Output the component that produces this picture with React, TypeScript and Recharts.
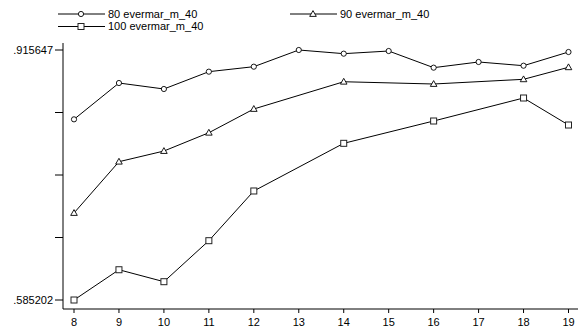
import React from 'react';
import { LineChart, Line, XAxis, YAxis } from 'recharts';

const ages = [8, 9, 10, 11, 12, 13, 14, 15, 16, 17, 18, 19];
const s80 = [0.824, 0.872, 0.8641, 0.887, 0.8936, 0.915647, 0.9108, 0.9143, 0.8923, 0.8998, 0.8949, 0.913];
const s90 = [0.7002, 0.768, 0.7821, 0.8063, 0.8377, null, 0.8737, null, 0.8707, null, 0.8769, 0.8928];
const s100 = [0.585202, 0.6252, 0.6094, 0.6636, 0.7293, null, 0.7923, null, 0.8218, null, 0.8522, 0.8165];
const seriesNames = ['80 evermar_m_40', '90 evermar_m_40', '100 evermar_m_40'];
const yMin = 0.585202;
const yMax = 0.915647;
const yTickLabels = ['.585202', '.915647'];
const xTitle = 'edad';

const data = ages.map((a, i) => ({ age: a, s80: s80[i], s90: s90[i], s100: s100[i] }));
const yTicks = [0, 1, 2, 3, 4].map((k) => yMin + ((yMax - yMin) * k) / 4);

const FONT = '"Liberation Sans", Arial, sans-serif';

const CircleMark = ({ cx, cy }: any) =>
  cx == null || cy == null ? null : (
    <circle cx={cx} cy={cy} r={2.6} fill="#fff" stroke="#000" strokeWidth={0.9} />
  );
const TriMark = ({ cx, cy }: any) =>
  cx == null || cy == null ? null : (
    <polygon
      points={`${cx},${cy - 3.4} ${cx - 3.3},${cy + 2.4} ${cx + 3.3},${cy + 2.4}`}
      fill="#fff"
      stroke="#000"
      strokeWidth={0.9}
    />
  );
const SqMark = ({ cx, cy }: any) =>
  cx == null || cy == null ? null : (
    <rect x={cx - 3} y={cy - 3} width={6} height={6} fill="#fff" stroke="#222" strokeWidth={1} />
  );

const markers = [CircleMark, TriMark, SqMark];

const LegendSvg = () => {
  const items = [
    { x: 58, y: 14 },
    { x: 290, y: 14 },
    { x: 58, y: 26.5 },
  ];
  return (
    <svg width={581} height={40} style={{ position: 'absolute', left: 0, top: 0 }}>
      {items.map((it, i) => {
        const M = markers[i];
        return (
          <g key={i}>
            <line x1={it.x} x2={it.x + 47} y1={it.y} y2={it.y} stroke="#000" strokeWidth={1} />
            <M cx={it.x + 23} cy={it.y} />
            <text
              x={it.x + 50}
              y={it.y}
              dy="0.35em"
              fontSize={11}
              fontFamily={FONT}
              fill="#000"
            >
              {seriesNames[i]}
            </text>
          </g>
        );
      })}
    </svg>
  );
};

export default function App() {
  return (
    <div style={{ position: 'absolute', left: 0, top: 0, width: 581, height: 332, background: '#fff', overflow: 'hidden' }}>
      <LineChart
        width={581}
        height={332}
        data={data}
        margin={{ top: 43, right: 3, bottom: 0, left: 0 }}
        style={{ fontFamily: FONT }}
      >
        <XAxis
          dataKey="age"
          type="number"
          domain={[8, 19]}
          ticks={ages}
          interval={0}
          height={23}
          padding={{ left: 11, right: 9.5 }}
          tickSize={4}
          tickMargin={5}
          axisLine={{ stroke: '#000', strokeWidth: 1 }}
          tickLine={{ stroke: '#000', strokeWidth: 1 }}
          tick={{ fill: '#000', fontSize: 11, fontFamily: FONT }}
          label={{ value: xTitle, position: 'insideBottom', offset: -8, fill: '#000', fontSize: 11, fontFamily: FONT }}
        />
        <YAxis
          type="number"
          domain={[yMin, yMax]}
          ticks={yTicks}
          interval={0}
          width={63}
          padding={{ top: 7, bottom: 9 }}
          tickSize={8}
          tickMargin={2}
          axisLine={{ stroke: '#000', strokeWidth: 1 }}
          tickLine={{ stroke: '#000', strokeWidth: 1 }}
          tick={{ fill: '#000', fontSize: 11, fontFamily: FONT }}
          tickFormatter={(v: number, i: number) => (i === 0 ? yTickLabels[0] : i === 4 ? yTickLabels[1] : '')}
        />
        <Line dataKey="s80" stroke="#000" strokeWidth={1} dot={<CircleMark />} activeDot={false} connectNulls isAnimationActive={false} />
        <Line dataKey="s90" stroke="#000" strokeWidth={1} dot={<TriMark />} activeDot={false} connectNulls isAnimationActive={false} />
        <Line dataKey="s100" stroke="#000" strokeWidth={1} dot={<SqMark />} activeDot={false} connectNulls isAnimationActive={false} />
      </LineChart>
      <LegendSvg />
    </div>
  );
}
